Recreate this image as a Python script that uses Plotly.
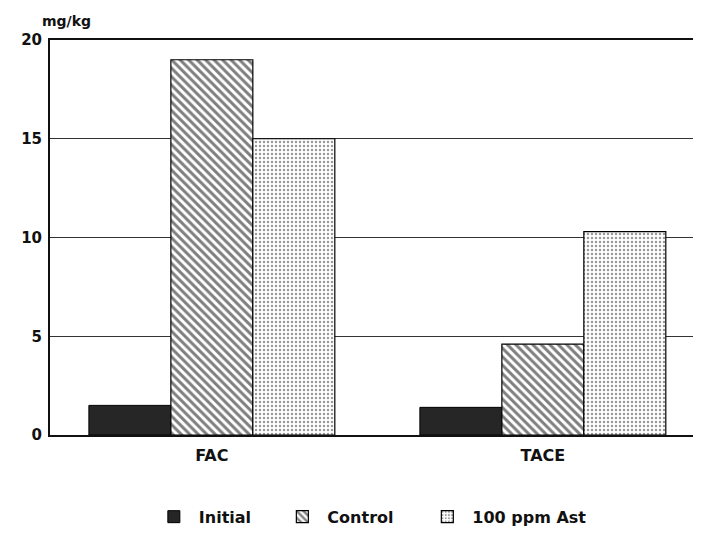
import plotly.graph_objects as go

categories = ["FAC", "TACE"]
initial = [1.5, 1.4]
control = [19.0, 4.6]
ast100 = [15.0, 10.3]
series_names = ["Initial", "Control", "100 ppm Ast"]
y_ticks = [0, 5, 10, 15, 20]

font_family = "DejaVu Sans, Liberation Sans, Arial, sans-serif"

fig = go.Figure()
fig.add_trace(go.Bar(
    x=categories, y=initial, name=series_names[0], legend="legend",
    marker=dict(color="#262626", line=dict(color="black", width=1)),
))
fig.add_trace(go.Bar(
    x=categories, y=control, name=series_names[1], legend="legend2",
    marker=dict(color="white", line=dict(color="black", width=1.2),
                pattern=dict(shape="\\", fgcolor="black", bgcolor="white",
                             size=6, solidity=0.5)),
))
fig.add_trace(go.Bar(
    x=categories, y=ast100, name=series_names[2], legend="legend3",
    marker=dict(color="white", line=dict(color="black", width=1.2),
                pattern=dict(shape=".", fgcolor="#333333", bgcolor="white",
                             size=4, solidity=0.3)),
))

legend_common = dict(orientation="h", xanchor="left", y=-0.207,
                     yanchor="middle", font=dict(size=16, weight="bold"),
                     itemwidth=40)

fig.update_layout(
    width=701, height=534,
    margin=dict(l=42, r=0, t=32, b=107),
    barmode="group",
    bargap=0.257,
    bargroupgap=0,
    plot_bgcolor="white",
    paper_bgcolor="white",
    font=dict(family=font_family, size=15, color="#111111", weight="bold"),
    showlegend=True,
    legend=dict(x=0.150, **legend_common),
    legend2=dict(x=0.345, **legend_common),
    legend3=dict(x=0.565, **legend_common),
    xaxis=dict(range=[-0.489, 1.502], showline=True, linecolor="#111111",
               linewidth=2, mirror=True, showgrid=False, ticks="",
               ticklabelstandoff=5,
               tickfont=dict(size=16, weight="bold")),
    yaxis=dict(range=[0, 20], tickvals=y_ticks, showline=True,
               linecolor="#111111", linewidth=2, showgrid=True,
               gridcolor="#333333", gridwidth=1.2, zeroline=False, ticks="",
               ticklabelstandoff=3,
               tickfont=dict(size=15, weight="bold")),
    annotations=[dict(text="mg/kg", xref="paper", yref="paper", x=0.0,
                      y=1.0, xanchor="left", yanchor="bottom", yshift=9,
                      xshift=-10, showarrow=False,
                      font=dict(size=14, weight="bold"))],
)

fig.write_html("out.html")
